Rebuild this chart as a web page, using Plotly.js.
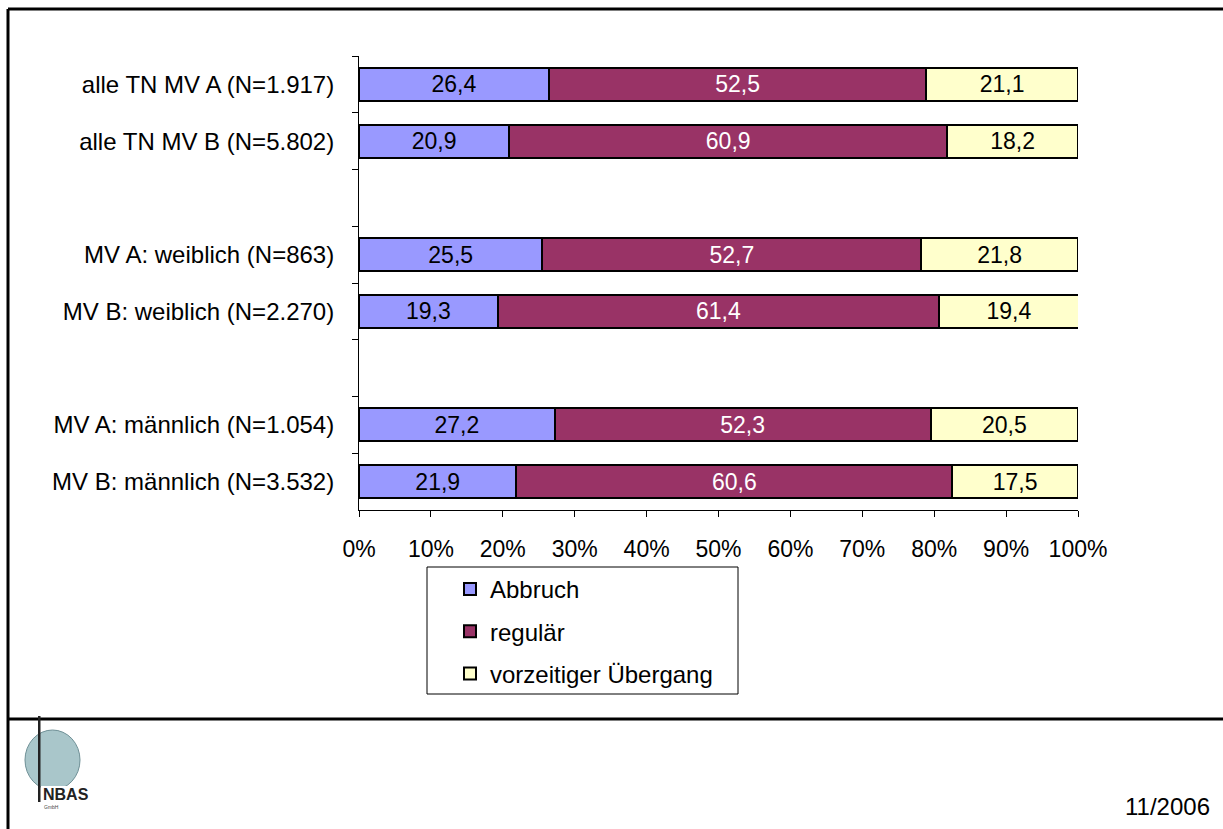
<!DOCTYPE html>
<html>
<head>
<meta charset="utf-8">
<script src="https://cdn.plot.ly/plotly-3.0.1.min.js"></script>
<style>
html,body{margin:0;padding:0;background:#fff;}
#chart{width:1223px;height:829px;}
</style>
</head>
<body>
<div id="chart"></div>
<script>
// ---- data ----
const categories = [
  "alle TN MV A (N=1.917)",
  "alle TN MV B (N=5.802)",
  " ",
  "MV A: weiblich (N=863)",
  "MV B: weiblich (N=2.270)",
  "  ",
  "MV A: männlich (N=1.054)",
  "MV B: männlich (N=3.532)"
];
const abbruch   = [26.4, 20.9, null, 25.5, 19.3, null, 27.2, 21.9];
const regulaer  = [52.5, 60.9, null, 52.7, 61.4, null, 52.3, 60.6];
const vorzeitig = [21.1, 18.2, null, 21.8, 19.4, null, 20.5, 17.5];
const seriesNames = ["Abbruch", "regulär", "vorzeitiger Übergang"];
const xTickVals = [0,10,20,30,40,50,60,70,80,90,100];
const xTickText = ["0%","10%","20%","30%","40%","50%","60%","70%","80%","90%","100%"];
const dateLabel = "11/2006";

// ---- layout helpers ----
const W = 1223, H = 829;
const L = 359, R = 145, T = 56, B = 319;
const pw = W - L - R, ph = H - T - B;
const px = x => (x - L) / pw;
const py = y => (H - B - y) / ph;

const FONT = "Liberation Sans, Arial, sans-serif";
const colors = ["#9999FF", "#993366", "#FFFFCC"];
const textColors = ["#000000", "#FFFFFF", "#000000"];
const seriesData = [abbruch, regulaer, vorzeitig];

const traces = seriesData.map((vals, i) => ({
  type: "bar",
  orientation: "h",
  name: seriesNames[i],
  y: categories,
  x: vals,
  marker: {color: colors[i], line: {color: "#000", width: 2}},
  texttemplate: "%{x:.1f}",
  textposition: "inside",
  insidetextanchor: "middle",
  constraintext: "none",
  textfont: {family: FONT, size: 23, color: textColors[i]},
  legendgroup: "g" + i,
  hoverinfo: "skip"
}));

const layout = {
  width: W, height: H,
  margin: {l: L, r: R, t: T, b: B, pad: 0},
  paper_bgcolor: "#fff",
  plot_bgcolor: "#fff",
  separators: ",.",
  barmode: "stack",
  bargap: 0.42,
  font: {family: FONT, size: 24, color: "#000"},
  xaxis: {
    range: [0, 100],
    tickmode: "array",
    tickvals: xTickVals,
    ticktext: xTickText,
    ticks: "outside", ticklen: 6, tickwidth: 1, tickcolor: "#000",
    showline: true, linecolor: "#000", linewidth: 1,
    showgrid: false, zeroline: false,
    tickfont: {family: FONT, size: 23},
    ticklabelstandoff: 12,
    fixedrange: true
  },
  yaxis: {
    type: "category",
    categoryorder: "array",
    categoryarray: categories,
    autorange: "reversed",
    tickson: "boundaries",
    ticks: "outside", ticklen: 6, tickwidth: 1, tickcolor: "#000",
    showline: true, linecolor: "#000", linewidth: 1,
    showgrid: false, zeroline: false,
    tickfont: {family: FONT, size: 24},
    ticklabelstandoff: 19,
    fixedrange: true
  },
  showlegend: true,
  legend: {
    x: px(450), y: py(567), xanchor: "left", yanchor: "top",
    borderwidth: 0, bgcolor: "rgba(0,0,0,0)",
    font: {family: FONT, size: 24},
    traceorder: "grouped",
    tracegroupgap: 8,
    itemwidth: 30
  },
  shapes: [
    // legend box
    {type: "rect", xref: "paper", yref: "paper", x0: px(427), x1: px(738), y0: py(567), y1: py(694),
      line: {color: "#000", width: 1}, fillcolor: "rgba(0,0,0,0)", layer: "below"},
    // frame
    {type: "line", xref: "paper", yref: "paper", x0: px(8), x1: px(1223), y0: py(9), y1: py(9), line: {color: "#000", width: 3}},
    {type: "line", xref: "paper", yref: "paper", x0: px(8), x1: px(8), y0: py(9), y1: py(829), line: {color: "#000", width: 3}},
    {type: "line", xref: "paper", yref: "paper", x0: px(8), x1: px(1223), y0: py(719), y1: py(719), line: {color: "#000", width: 3}},
    // logo approximation
    {type: "circle", xref: "paper", yref: "paper", x0: px(25), x1: px(80), y0: py(730), y1: py(790),
      fillcolor: "#a9c6ca", line: {color: "#6f9096", width: 1}},
    {type: "rect", xref: "paper", yref: "paper", x0: px(38), x1: px(40.5), y0: py(716), y1: py(802),
      fillcolor: "#222", line: {width: 0}},
    {type: "rect", xref: "paper", yref: "paper", x0: px(41), x1: px(92), y0: py(786), y1: py(802),
      fillcolor: "#fff", line: {width: 0}}
  ],
  annotations: [
    {xref: "paper", yref: "paper", x: px(41), y: py(794), xanchor: "left", yanchor: "middle",
      text: "<b>NBAS</b>", showarrow: false, font: {family: FONT, size: 16, color: "#222"}},
    {xref: "paper", yref: "paper", x: px(42), y: py(807), xanchor: "left", yanchor: "middle",
      text: "GmbH", showarrow: false, font: {family: FONT, size: 5, color: "#444"}},
    {xref: "paper", yref: "paper", x: px(1212), y: py(806), xanchor: "right", yanchor: "middle",
      text: dateLabel, showarrow: false, font: {family: FONT, size: 24, color: "#000"}}
  ]
};

Plotly.newPlot("chart", traces, layout, {displayModeBar: false, staticPlot: true});
</script>
</body>
</html>
